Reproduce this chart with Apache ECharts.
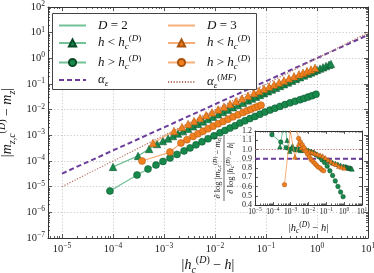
<!DOCTYPE html>
<html><head><meta charset="utf-8">
<script src="https://cdn.jsdelivr.net/npm/echarts@6/dist/echarts.min.js"></script>
<style>html,body{margin:0;padding:0;background:#fff}#c{width:374px;height:273px}</style>
</head><body><div id="c"></div>
<script>
// ================= DATA =================
// main plot: |h_c - h| and |m_zc - m_z|
const lo2H = [1.0e-4,3.1e-4,5.1e-4,7.3e-4,9.5e-4,1.20e-3,1.50e-3,1.88e-3,2.36e-3,2.96e-3,3.71e-3,4.64e-3,5.82e-3,7.30e-3,9.14e-3,1.15e-2,1.44e-2,1.80e-2,2.25e-2,2.82e-2,3.54e-2,4.44e-2,5.31e-2,6.37e-2,7.62e-2,9.14e-2,0.109,0.131,0.157,0.188,0.225,0.270,0.324,0.387,0.464,0.556,0.667,0.762,0.873,1.0,1.145,1.31,1.50,1.72,1.88];
const lo2M = [5.9e-5,1.58e-4,2.95e-4,4.6e-4,6.0e-4,7.5e-4,9.4e-4,1.17e-3,1.46e-3,1.81e-3,2.25e-3,2.79e-3,3.47e-3,4.30e-3,5.32e-3,6.58e-3,8.13e-3,1.00e-2,1.24e-2,1.52e-2,1.87e-2,2.30e-2,2.70e-2,3.19e-2,3.75e-2,4.41e-2,5.19e-2,6.09e-2,7.14e-2,8.38e-2,9.82e-2,0.115,0.135,0.158,0.184,0.215,0.251,0.282,0.316,0.355,0.398,0.446,0.500,0.560,0.604];
const hi2H = [8.7e-5,2.96e-4,4.85e-4,6.97e-4,9.55e-4,1.31e-3,1.80e-3,2.47e-3,3.24e-3,4.24e-3,5.56e-3,7.30e-3,9.55e-3,1.25e-2,1.57e-2,1.97e-2,2.47e-2,3.09e-2,3.87e-2,4.85e-2,6.08e-2,7.62e-2,9.55e-2,0.120,0.150,0.188,0.236,0.296,0.371,0.464,0.556,0.667,0.798,0.955];
const hi2M = [6.8e-6,2.85e-5,4.89e-5,7.0e-5,9.6e-5,1.31e-4,1.81e-4,2.48e-4,3.24e-4,4.25e-4,5.61e-4,7.34e-4,9.6e-4,1.26e-3,1.56e-3,1.91e-3,2.36e-3,3.03e-3,3.69e-3,4.49e-3,5.47e-3,6.67e-3,8.05e-3,9.64e-3,1.14e-2,1.34e-2,1.58e-2,1.84e-2,2.12e-2,2.43e-2,2.75e-2,3.1e-2,3.5e-2,3.95e-2];
const lo3H = [6.08e-4,1.57e-3,2.25e-3,2.96e-3,3.87e-3,5.08e-3,6.67e-3,8.73e-3,1.15e-2,1.50e-2,1.97e-2,2.58e-2,3.38e-2,4.44e-2,5.82e-2,7.30e-2,9.14e-2,0.115,0.144,0.180,0.225,0.282,0.354,0.444,0.531,0.637,0.762,0.914];
const lo3M = [5.04e-4,1.48e-3,2.11e-3,2.77e-3,3.59e-3,4.70e-3,6.10e-3,7.83e-3,1.02e-2,1.31e-2,1.68e-2,2.14e-2,2.73e-2,3.48e-2,4.43e-2,5.39e-2,6.50e-2,7.93e-2,9.57e-2,0.115,0.138,0.166,0.200,0.239,0.276,0.318,0.367,0.425];
const hi3H = [3.71e-4,1.31e-3,2.15e-3,2.82e-3,3.71e-3,4.64e-3,5.82e-3,7.30e-3,9.14e-3,1.15e-2,1.44e-2,1.80e-2,2.25e-2,2.82e-2,3.54e-2,4.24e-2,5.08e-2,6.08e-2,6.97e-2,7.98e-2];
const hi3M = [1.0e-4,2.24e-4,5.04e-4,6.77e-4,9.1e-4,1.15e-3,1.45e-3,1.82e-3,2.27e-3,2.82e-3,3.46e-3,4.26e-3,5.24e-3,6.37e-3,7.76e-3,9.04e-3,1.04e-2,1.21e-2,1.34e-2,1.49e-2];
// reference power laws (end points)
const alphaEpsH = [1e-5, 10];
const alphaEpsM = [3.24e-5, 8.13];
const alphaMFH = [1e-5, 10];
const alphaMFM = [1e-5, 10];
// inset: local exponents
const dlo2H = [2.5e-4,4.5e-4,6.3e-4,8.9e-4,1.26e-3,1.78e-3,2.5e-3,3.5e-3,5.0e-3,7.1e-3,1.0e-2,1.41e-2,2.0e-2,2.8e-2,4.0e-2,5.6e-2,7.9e-2,0.112,0.158,0.224,0.316,0.447,0.631,0.891,1.12,1.26,1.41,1.58,1.78,2.0,2.24,2.5,2.75];
const dlo2V = [1.03,1.30,1.10,0.98,1.04,1.00,1.02,0.99,1.01,1.00,0.99,0.98,0.97,0.95,0.93,0.92,0.90,0.88,0.87,0.86,0.85,0.84,0.83,0.82,0.815,0.81,0.81,0.805,0.80,0.80,0.80,0.795,0.79];
const dhi2H = [8.9e-5,2.8e-4,5.6e-4,8.9e-4,1.26e-3,1.78e-3,2.5e-3,3.5e-3,5.0e-3,7.1e-3,1.0e-2,1.41e-2,2.0e-2,2.8e-2,4.0e-2,5.6e-2,7.9e-2,0.112,0.158,0.224,0.316,0.447,0.631,0.871];
const dhi2V = [1.16,1.08,1.02,1.00,1.01,1.00,1.00,1.00,0.99,0.99,0.98,0.97,0.96,0.94,0.92,0.89,0.86,0.82,0.77,0.72,0.66,0.60,0.54,0.49];
const dlo3H = [6.3e-4,1.74e-3,2.8e-3,4.0e-3,5.6e-3,7.9e-3,1.12e-2,1.58e-2,2.24e-2,3.16e-2,4.47e-2,6.3e-2,8.9e-2,0.126,0.178,0.251,0.355,0.501,0.708,1.0];
const dlo3V = [1.40,0.92,1.06,1.02,1.00,0.99,0.98,0.97,0.96,0.95,0.94,0.93,0.91,0.89,0.87,0.85,0.84,0.82,0.81,0.80];
const dhi3H = [4.5e-4,1.26e-3,2.8e-3,3.5e-3,4.5e-3,5.6e-3,7.1e-3,8.9e-3,1.12e-2,1.41e-2,1.78e-2,2.24e-2,2.8e-2,3.5e-2,4.5e-2,5.6e-2,7.1e-2];
const dhi3V = [0.62,1.40,1.12,1.08,1.05,1.02,0.98,0.95,0.92,0.89,0.87,0.85,0.83,0.81,0.80,0.78,0.77];
const insetAlphaEps = 0.9;
const insetAlphaMF = 1.0;
// tick values
const mainXMajor = [1e-5,1e-4,1e-3,1e-2,1e-1,1,10];
const mainYMajor = [1e-7,1e-6,1e-5,1e-4,1e-3,1e-2,1e-1,1,10,100];
const insetXMajor = [1e-5,1e-4,1e-3,1e-2,1e-1,1,10];

// ================= STYLE =================
const SERIF = 'Liberation Serif';
const GREEN = '#17894b', GREEN_E = '#0b4a28', GREEN_L = 'rgba(40,160,95,0.65)';
const ORANGE = '#f0801f', ORANGE_E = '#a9520c', ORANGE_L = 'rgba(242,140,60,0.7)';
const PURPLE = '#6a3d9a', BROWN = '#b8756a';
const AX = '#333';

function minorList(lo, hi) {
  const out = [];
  for (let d = Math.floor(Math.log10(lo)); d <= Math.ceil(Math.log10(hi)); d++)
    for (let k = 2; k <= 9; k++) { const v = k * Math.pow(10, d); if (v > lo * 1.0001 && v < hi * 0.9999) out.push(+v.toPrecision(3)); }
  return out;
}
function pw(v) { const e = Math.round(Math.log10(v)); return '{b|10}{s|' + (e < 0 ? '\u2212' + (-e) : e) + '}'; }

const mathRich = (fs, ss, lh) => ({
  i: {fontFamily: SERIF, fontStyle: 'italic', fontSize: fs, lineHeight: lh},
  r: {fontFamily: SERIF, fontSize: fs, lineHeight: lh},
  sub: {fontFamily: SERIF, fontStyle: 'italic', fontSize: ss, lineHeight: ss * 0.7, verticalAlign: 'bottom'},
  subr: {fontFamily: SERIF, fontSize: ss, lineHeight: ss * 0.7, verticalAlign: 'bottom'},
  sup: {fontFamily: SERIF, fontStyle: 'italic', fontSize: ss, lineHeight: ss * 0.7, verticalAlign: 'top'},
  supr: {fontFamily: SERIF, fontSize: ss, lineHeight: ss * 0.7, verticalAlign: 'top'},
  p: {width: 7},
  bar: {width: 66, height: 0.7, lineHeight: 3, backgroundColor: '#222'}
});
const hcD = '{i|h}{sub|c}{supr|(}{sup|D}{supr|)}';

function axis(o) {
  return {
    type: o.type || 'log', gridIndex: o.gi, position: o.pos, min: o.min, max: o.max,
    interval: o.interval, z: o.z || 0,
    axisLine: {show: !!o.line, onZero: false, lineStyle: {color: AX, width: 1}},
    axisTick: o.ticks === null ? {show: true, inside: true, length: o.len, lineStyle: {color: AX, width: 0.8}} :
      {show: true, inside: true, length: o.len, customValues: o.ticks, lineStyle: {color: AX, width: 0.8}},
    axisLabel: o.label ? Object.assign({show: true, color: '#222'}, o.label) : {show: false},
    splitLine: o.split ? {show: true, lineStyle: {color: '#bdbdbd', type: [1.2, 2], width: 0.8}} : {show: false},
    name: o.name, nameLocation: 'middle', nameGap: o.nameGap, nameMoveOverlap: false,
    nameTextStyle: o.nameStyle
  };
}
const tickRich = {b: {fontFamily: SERIF, fontSize: 10.5, lineHeight: 14}, s: {fontFamily: SERIF, fontSize: 7.5, lineHeight: 6, verticalAlign: 'top'}};
const tickRichS = {b: {fontFamily: SERIF, fontSize: 7.5, lineHeight: 10}, s: {fontFamily: SERIF, fontSize: 5.5, lineHeight: 4, verticalAlign: 'top'}};

const MX = [5.31e-6, 10], MY = [1e-7, 100];
const xAxes = [
  axis({gi: 0, pos: 'bottom', min: MX[0], max: MX[1], line: true, ticks: mainXMajor, len: 4, split: true,
    label: {customValues: mainXMajor, formatter: pw, rich: tickRich, margin: 4},
    name: '{r||}' + hcD + '{r| \u2212 }{i|h}{r||}', nameGap: 17,
    nameStyle: {rich: mathRich(14, 10, 20), color: '#111'}}),
  axis({gi: 0, pos: 'top', min: MX[0], max: MX[1], line: true, ticks: mainXMajor, len: 4}),
  axis({gi: 0, pos: 'bottom', min: MX[0], max: MX[1], ticks: minorList(MX[0], MX[1]), len: 2}),
  axis({gi: 0, pos: 'top', min: MX[0], max: MX[1], ticks: minorList(MX[0], MX[1]), len: 2}),
  axis({gi: 1, pos: 'bottom', min: 1e-5, max: 10, line: true, ticks: insetXMajor, len: 3, z: 6,
    label: {customValues: insetXMajor, formatter: pw, rich: tickRichS, margin: 2},
    name: '{r||}' + hcD + '{r| \u2212 }{i|h}{r||}', nameGap: 16,
    nameStyle: {rich: mathRich(10.5, 7.5, 14), color: '#111'}}),
  axis({gi: 1, pos: 'top', min: 1e-5, max: 10, line: true, ticks: insetXMajor, len: 3, z: 6}),
  axis({gi: 1, pos: 'bottom', min: 1e-5, max: 10, ticks: minorList(1e-5, 10), len: 1.5, z: 6}),
  axis({gi: 1, pos: 'top', min: 1e-5, max: 10, ticks: minorList(1e-5, 10), len: 1.5, z: 6})
];
const yAxes = [
  axis({gi: 0, pos: 'left', min: MY[0], max: MY[1], line: true, ticks: mainYMajor, len: 4, split: true,
    label: {customValues: mainYMajor, formatter: pw, rich: tickRich, margin: 3},
    name: '{r||}{i|m}{sub|z,c}{supr|(}{sup|D}{supr|)}{r| \u2212 }{i|m}{sub|z}{r||}', nameGap: 31,
    nameStyle: {rich: mathRich(14, 10, 20), color: '#111'}}),
  axis({gi: 0, pos: 'right', min: MY[0], max: MY[1], line: true, ticks: mainYMajor, len: 4}),
  axis({gi: 0, pos: 'left', min: MY[0], max: MY[1], ticks: minorList(MY[0], MY[1]), len: 2}),
  axis({gi: 0, pos: 'right', min: MY[0], max: MY[1], ticks: minorList(MY[0], MY[1]), len: 2}),
  axis({gi: 1, type: 'value', pos: 'left', min: 0.4, max: 1.2, interval: 0.1, line: true, ticks: null, len: 3, z: 6,
    label: {formatter: v => v.toFixed(1), fontFamily: SERIF, fontSize: 8, margin: 3}}),
  axis({gi: 1, type: 'value', pos: 'right', min: 0.4, max: 1.2, interval: 0.1, line: true, ticks: null, len: 3, z: 6})
];

const zip = (a, b) => a.map((v, i) => [v, b[i]]);
function mk(name, gi, xs, ys, sym, fill, edge, lc, size, z) {
  return {type: 'line', name, xAxisIndex: gi ? 4 : 0, yAxisIndex: gi ? 4 : 0, data: zip(xs, ys),
    symbol: sym, symbolSize: size, showSymbol: true, z, clip: true, animation: false,
    itemStyle: {color: fill, borderColor: edge, borderWidth: 0.5},
    lineStyle: {color: lc, width: gi ? 1 : 1.3}, emphasis: {disabled: true}};
}
function refLine(name, gi, xs, ys, color, type, width, z) {
  return {type: 'line', name, xAxisIndex: gi ? 4 : 0, yAxisIndex: gi ? 4 : 0, data: zip(xs, ys),
    symbol: 'none', z, animation: false, lineStyle: {color, type, width}, itemStyle: {color, opacity: 0}, emphasis: {disabled: true}};
}

const series = [
  refLine('ae', 0, alphaEpsH, alphaEpsM, PURPLE, [5, 3], 2, 2),
  refLine('amf', 0, alphaMFH, alphaMFM, BROWN, [1.2, 1.6], 1.2, 2),
  {type: 'line', name: 'D2', data: [], lineStyle: {color: GREEN_L, width: 1.5}, itemStyle: {color: GREEN_L, opacity: 0}, symbol: 'none'},
  {type: 'line', name: 'D3', data: [], lineStyle: {color: ORANGE_L, width: 1.5}, itemStyle: {color: ORANGE_L, opacity: 0}, symbol: 'none'},
  mk('lo2', 0, lo2H, lo2M, 'triangle', GREEN, GREEN_E, GREEN_L, 7.5, 3),
  mk('hi2', 0, hi2H, hi2M, 'circle', GREEN, GREEN_E, GREEN_L, 7, 3),
  mk('lo3', 0, lo3H, lo3M, 'triangle', ORANGE, ORANGE_E, ORANGE_L, 7.5, 4),
  mk('hi3', 0, hi3H, hi3M, 'circle', ORANGE, ORANGE_E, ORANGE_L, 7, 4),
  // inset
  {type: 'line', name: 'iae', xAxisIndex: 4, yAxisIndex: 4, data: [[1e-5, insetAlphaEps], [10, insetAlphaEps]], symbol: 'none', z: 7, animation: false, lineStyle: {color: PURPLE, type: [5, 3], width: 2}},
  {type: 'line', name: 'iamf', xAxisIndex: 4, yAxisIndex: 4, data: [[1e-5, insetAlphaMF], [10, insetAlphaMF]], symbol: 'none', z: 7, animation: false, lineStyle: {color: BROWN, type: [1.2, 1.6], width: 1}},
  mk('ilo2', 1, dlo2H, dlo2V, 'triangle', GREEN, GREEN_E, GREEN_L, 4.5, 8),
  mk('ihi2', 1, dhi2H, dhi2V, 'circle', GREEN, GREEN_E, GREEN_L, 4.5, 8),
  mk('ilo3', 1, dlo3H, dlo3V, 'triangle', ORANGE, ORANGE_E, ORANGE_L, 4.5, 9),
  mk('ihi3', 1, dhi3H, dhi3V, 'circle', ORANGE, ORANGE_E, ORANGE_L, 4.5, 9)
];

const LAB = {
  D2: '{p| }{i|D}{r| = 2}', D3: '{p| }{i|D}{r| = 3}',
  lo2: '{p| }{i|h}{r| < }' + hcD, lo3: '{p| }{i|h}{r| < }' + hcD,
  hi2: '{p| }{i|h}{r| > }' + hcD, hi3: '{p| }{i|h}{r| > }' + hcD,
  ae: '{p| }{i|\u03b1}{sub|\u03b5}', amf: '{p| }{i|\u03b1}{sub|\u03b5}{supr|(}{sup|MF}{supr|)}'
};
const legendBase = {orient: 'vertical', top: 19, itemWidth: 27, itemHeight: 9, itemGap: 2.5, padding: 0, z: 11,
  selectedMode: false, formatter: n => LAB[n], textStyle: {color: '#111', rich: mathRich(13, 9, 17)}};

const insetYName = '{r|\u2202 log |}{i|m}{sub|z,c}{supr|(}{sup|D}{supr|)}{r| \u2212 }{i|m}{sub|z}{r||}\n{bar| }\n{r|\u2202 log |}' + hcD + '{r| \u2212 }{i|h}{r||}';

const chart = echarts.init(document.getElementById('c'), null, {renderer: 'canvas'});
chart.setOption({
  animation: false,
  backgroundColor: '#fff',
  grid: [
    {left: 48, top: 7, right: 6, bottom: 35, outerBoundsMode: 'none', containLabel: false},
    {left: 255, top: 131, right: 12, bottom: 68, show: true, backgroundColor: '#fff', borderWidth: 0, z: 5, outerBoundsMode: 'none', containLabel: false}
  ],
  xAxis: xAxes, yAxis: yAxes,
  legend: [
    Object.assign({}, legendBase, {left: 58, data: ['D2', 'lo2', 'hi2', 'ae']}),
    Object.assign({}, legendBase, {left: 167, data: ['D3', 'lo3', 'hi3', 'amf']})
  ],
  graphic: {elements: [
    {type: 'rect', z: 10, shape: {x: 52.5, y: 13.5, width: 204, height: 76},
      style: {fill: '#fff', stroke: '#444', lineWidth: 1}},
    {type: 'text', z: 12, x: 224, y: 168, rotation: Math.PI / 2,
      style: {text: insetYName, rich: mathRich(8.5, 6, 10), fill: '#111', align: 'center', verticalAlign: 'middle'}}
  ]},
  series
});
</script></body></html>
